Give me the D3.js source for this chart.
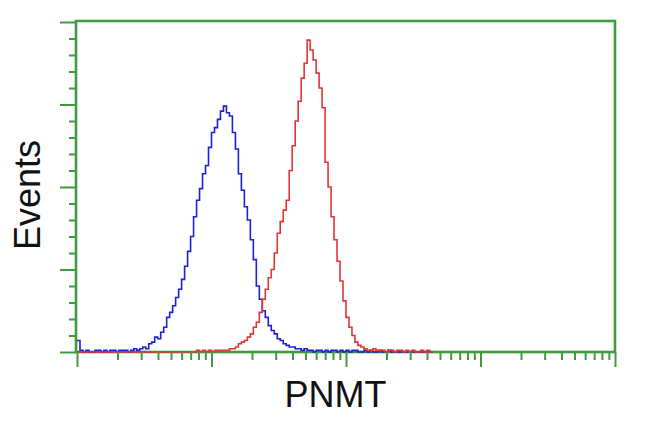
<!DOCTYPE html>
<html>
<head>
<meta charset="utf-8">
<script src="https://cdn.jsdelivr.net/npm/d3@7"></script>
<style>
  html, body { margin: 0; padding: 0; background: #fff; }
  svg { display: block; }
</style>
</head>
<body>
<svg id="chart" width="650" height="432"></svg>
<script>
// ---- data ----
const xDomain = [1, 10000];          // log intensity axis (4 decades)
const yDomain = [0, 200];            // event counts
const binsPerDecade = 45;
const yMajorTicks = [0, 50, 100, 150, 200];
const yMinorTicks = [10, 20, 30, 40, 60, 70, 80, 90, 110, 120, 130, 140, 160, 170, 180, 190];
const xMajorTicks = [1, 10, 100, 1000, 10000];
const xLabel = "PNMT";
const yLabel = "Events";

// control (blue) histogram counts per bin
const blueCounts = [
  7,1,0,1,0,0,1,1,0,1, 0,1,1,0,1,1,1,0,1,2,
  1,2,3,2,5,6,9,8,12,15, 21,24,28,33,38,44,52,61,70,82,
  92,99,108,113,124,133,136,141,146,149, 145,143,133,123,108,98,88,80,68,56,
  40,32,25,21,16,13,11,8,7,5, 4,3,3,2,2,1,2,1,1,0,
  1,1,0,1,0,1,1,0,1,0, 1,0,1,1,0,0,1,0,1,0,
  0,1,0,0,1,0,0,0,0,0, 0,0,0,0,0,0,0,0,0,0
];
// PNMT-stained (red) histogram counts per bin
const redCounts = [
  0,0,0,0,0,0,0,0,0,0, 0,0,0,0,0,0,0,0,0,0,
  0,0,0,0,0,0,0,0,0,0, 0,0,0,0,0,0,0,0,0,0,
  1,0,1,0,1,0,1,1,1,1, 1,2,2,3,5,6,7,9,11,15,
  18,24,32,38,45,50,60,72,79,86, 92,110,125,140,152,166,175,189,183,177,
  169,160,148,115,100,82,68,55,43,31, 21,15,10,6,4,3,2,1,1,2,
  1,1,1,0,1,1,0,1,1,0, 1,0,1,0,0,1,0,1,0,0
];

// ---- layout ----
const mLeft = 76, mRight = 615, mTop = 21, mBottom = 352;
const green = "#3f9b3f";
const svg = d3.select("#chart");

const x = d3.scaleLog().domain(xDomain).range([mLeft + 1, mRight]);
const y = d3.scaleLinear().domain(yDomain).range([mBottom, mTop + 1]);

const binEdge = i => Math.pow(10, i / binsPerDecade);

// frame
svg.append("rect")
  .attr("x", mLeft).attr("y", mTop)
  .attr("width", mRight - mLeft).attr("height", mBottom - mTop)
  .attr("fill", "none").attr("stroke", green).attr("stroke-width", 2.6);

// histograms (step lines)
function drawHist(counts, color) {
  const pts = counts.map((c, i) => [binEdge(i), c]);
  const line = d3.line()
    .x(d => x(d[0]))
    .y(d => y(d[1]))
    .curve(d3.curveStepAfter);
  svg.append("path")
    .attr("d", line(pts))
    .attr("fill", "none")
    .attr("stroke", color)
    .attr("stroke-width", 1.6)
    .attr("stroke-linejoin", "miter");
}
drawHist(blueCounts, "#1f1fd6");
drawHist(redCounts, "#e03535");

// y axis ticks
const yAxisMajor = d3.axisLeft(y).tickValues(yMajorTicks).tickSize(16).tickFormat("");
const yAxisMinor = d3.axisLeft(y).tickValues(yMinorTicks).tickSize(7).tickFormat("");
[yAxisMajor, yAxisMinor].forEach(ax => {
  const g = svg.append("g").attr("transform", `translate(${mLeft},0)`).call(ax);
  g.select(".domain").remove();
  g.selectAll("line").attr("stroke", green).attr("stroke-width", 2);
});

// x axis ticks
const xMinorTicks = [];
for (let d = 0; d < xMajorTicks.length - 1; d++) {
  for (let m = 2; m <= 9; m++) xMinorTicks.push(xMajorTicks[d] * m);
}
const xAxisMajor = d3.axisBottom(x).tickValues(xMajorTicks).tickSize(15).tickFormat("");
const xAxisMinor = d3.axisBottom(x).tickValues(xMinorTicks).tickSize(8).tickFormat("");
[xAxisMajor, xAxisMinor].forEach(ax => {
  const g = svg.append("g").attr("transform", `translate(0,${mBottom})`).call(ax);
  g.select(".domain").remove();
  g.selectAll("line").attr("stroke", green).attr("stroke-width", 2);
});

// labels
svg.append("text")
  .attr("x", (mLeft + mRight) / 2 - 10)
  .attr("y", 407)
  .attr("text-anchor", "middle")
  .attr("font-family", "Liberation Sans, Arial, sans-serif")
  .attr("font-size", 36)
  .attr("fill", "#111")
  .text(xLabel);

svg.append("text")
  .attr("transform", "translate(40,195) rotate(-90)")
  .attr("text-anchor", "middle")
  .attr("font-family", "Liberation Sans, Arial, sans-serif")
  .attr("font-size", 36)
  .attr("fill", "#111")
  .text(yLabel);
</script>
</body>
</html>
